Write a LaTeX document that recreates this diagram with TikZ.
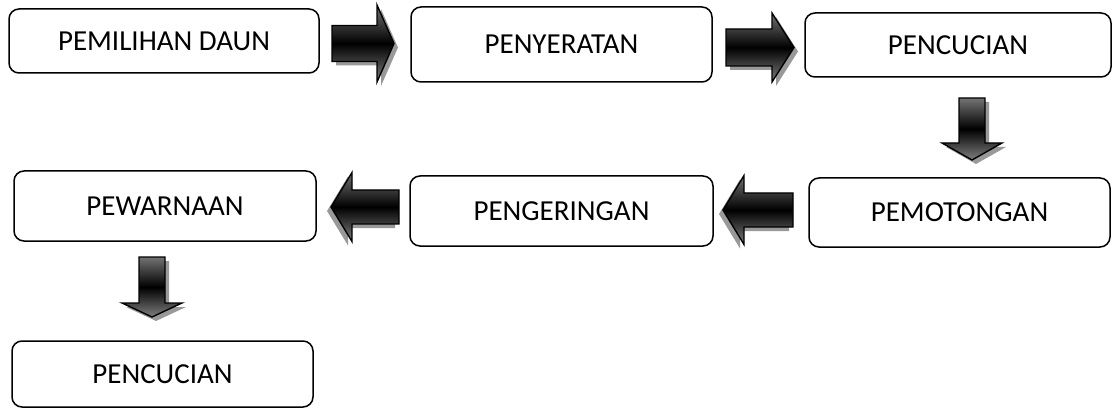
\documentclass[tikz,border=0pt]{standalone}
\usepackage{fontspec}
\setmainfont{Carlito}
\tikzset{
  stage/.style={draw=black, line width=1.5pt, rounded corners=10pt, fill=white,
    inner sep=0pt, font=\fontsize{29}{34}\selectfont},
  arrowbody/.style={draw=black, line width=1.4pt, line join=miter,
    top color=black!55, bottom color=black!50, middle color=black},
  arrowshadow/.style={fill=black!40},
  % block arrow pointing right: length / head length / shaft half-width / head half-width
  pics/hblock/.style args={#1/#2/#3/#4}{code={
    \fill[arrowshadow, shift={(4,4)}]
      ({-#1/2},{-#3}) -- ({#1/2-#2},{-#3}) -- ({#1/2-#2},{-#4}) -- ({#1/2},0)
      -- ({#1/2-#2},{#4}) -- ({#1/2-#2},{#3}) -- ({-#1/2},{#3}) -- cycle;
    \shade[arrowbody]
      ({-#1/2},{-#3}) -- ({#1/2-#2},{-#3}) -- ({#1/2-#2},{-#4}) -- ({#1/2},0)
      -- ({#1/2-#2},{#4}) -- ({#1/2-#2},{#3}) -- ({-#1/2},{#3}) -- cycle;
  }},
  % block arrow pointing down, same parameters
  pics/vblock/.style args={#1/#2/#3/#4}{code={
    \fill[arrowshadow, shift={(4,4)}]
      ({-#3},{-#1/2}) -- ({#3},{-#1/2}) -- ({#3},{#1/2-#2}) -- ({#4},{#1/2-#2})
      -- (0,{#1/2}) -- ({-#4},{#1/2-#2}) -- ({-#3},{#1/2-#2}) -- cycle;
    \shade[arrowbody]
      ({-#3},{-#1/2}) -- ({#3},{-#1/2}) -- ({#3},{#1/2-#2}) -- ({#4},{#1/2-#2})
      -- (0,{#1/2}) -- ({-#4},{#1/2-#2}) -- ({-#3},{#1/2-#2}) -- cycle;
  }},
}
\begin{document}
\begin{tikzpicture}[x=1pt, y=-1pt]
  \useasboundingbox[fill=white] (0,0) rectangle (1112,409);

  % process stages
  \node[stage, minimum width=310pt, minimum height=64pt] (b1) at (164,41)    {PEMILIHAN DAUN};
  \node[stage, minimum width=301pt, minimum height=75pt] (b2) at (561.5,44.5) {PENYERATAN};
  \node[stage, minimum width=306pt, minimum height=64pt] (b3) at (958,45)    {PENCUCIAN};
  \node[stage, minimum width=301pt, minimum height=69pt] (b4) at (959.5,212.5) {PEMOTONGAN};
  \node[stage, minimum width=303pt, minimum height=70pt] (b5) at (561.5,211) {PENGERINGAN};
  \node[stage, minimum width=302pt, minimum height=70pt] (b6) at (165,206)   {PEWARNAAN};
  \node[stage, minimum width=301pt, minimum height=66pt] (b7) at (162.5,374) {PENCUCIAN};

  % block arrows between the stages
  \pic at (363,43.5) {hblock={62/17/18/38.5}};
  \pic at (760,47.5) {hblock={68/22/18.5/34.5}};
  \pic at (972,129) {vblock={62/17/13/30}};
  \pic[xscale=-1] at (758,210) {hblock={70/21/17/34.5}};
  \pic[xscale=-1] at (365,207) {hblock={68/21/17/34.5}};
  \pic at (152,287) {vblock={60/14/13/30}};
\end{tikzpicture}
\end{document}
